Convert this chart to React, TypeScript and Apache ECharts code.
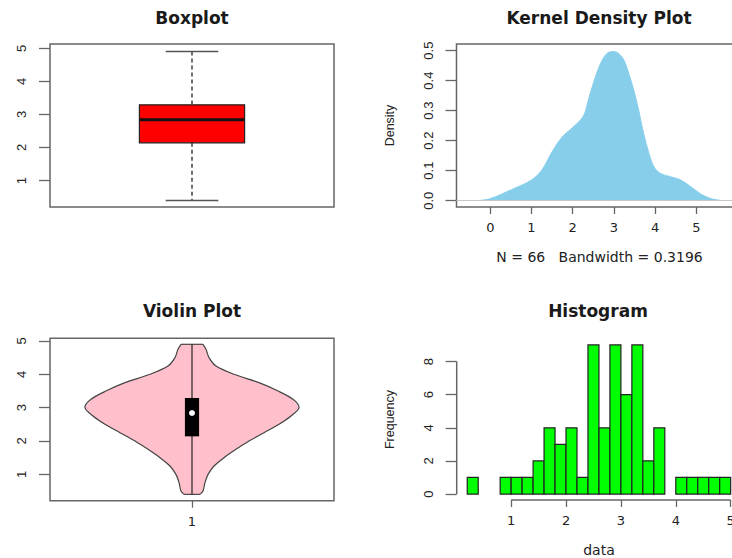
import React, { useEffect, useRef } from "react";
import * as echarts from "echarts";

// ---------- data ----------
const boxStats = [0.4, 2.14, 2.84, 3.29, 4.9]; // min, Q1, median, Q3, max
const yTicksBox = [1, 2, 3, 4, 5];

const densityX = [-0.3, 0, 0.5, 1.0, 1.25, 1.5, 1.75, 2.0, 2.26, 2.38, 2.5, 2.66, 2.82, 2.98, 3.11, 3.24, 3.36, 3.48, 3.6, 3.72, 3.85, 3.97, 4.13, 4.37, 4.62, 4.86, 5.11, 5.35, 5.65];
const densityY = [0, 0.007, 0.036, 0.069, 0.102, 0.163, 0.213, 0.244, 0.282, 0.336, 0.391, 0.452, 0.489, 0.497, 0.491, 0.469, 0.424, 0.369, 0.302, 0.224, 0.158, 0.113, 0.091, 0.08, 0.069, 0.047, 0.022, 0.007, 0];
const densityXTicks = [0, 1, 2, 3, 4, 5, 6];
const densityYTicks = [0, 0.1, 0.2, 0.3, 0.4, 0.5];
const densityXLabel = "N = 66   Bandwidth = 0.3196";

const violinLevels = [0.4, 0.5, 0.75, 1.0, 1.25, 1.5, 1.75, 2.0, 2.25, 2.5, 2.75, 3.0, 3.25, 3.5, 3.75, 4.0, 4.25, 4.5, 4.75, 4.9];
const violinDensity = [0.075, 0.103, 0.121, 0.15, 0.206, 0.299, 0.411, 0.533, 0.673, 0.813, 0.925, 1.0, 0.944, 0.804, 0.626, 0.393, 0.224, 0.159, 0.131, 0.103];
const violinCategories = ["1"];

const histBreaks = [0.2, 0.4, 0.6, 0.8, 1.0, 1.2, 1.4, 1.6, 1.8, 2.0, 2.2, 2.4, 2.6, 2.8, 3.0, 3.2, 3.4, 3.6, 3.8, 4.0, 4.2, 4.4, 4.6, 4.8, 5.0];
const histCounts = [1, 0, 0, 1, 1, 1, 2, 4, 3, 4, 1, 9, 4, 9, 6, 9, 2, 4, 0, 1, 1, 1, 1, 1];
const histXTicks = [1, 2, 3, 4, 5];
const histYTicks = [0, 2, 4, 6, 8];

const titles = ["Boxplot", "Kernel Density Plot", "Violin Plot", "Histogram"];

// ---------- styles ----------
const AXIS_COLOR = "#666";
const TEXT_COLOR = "#222";
const WIDE_FONT = "'DejaVu Sans', 'Liberation Sans', sans-serif";
const NARROW_FONT = "'Liberation Sans Narrow', 'Liberation Sans', Arial, sans-serif";

const hLabel = { fontFamily: WIDE_FONT, fontSize: 13, color: TEXT_COLOR };
const vLabel = { fontFamily: NARROW_FONT, fontSize: 13, color: TEXT_COLOR };

function yAxisBase(gridIndex: number, min: number, max: number, ticks: number[], fmt?: (v: number) => string) {
  return {
    type: "value",
    gridIndex,
    min,
    max,
    splitLine: { show: false },
    axisLine: { show: false, onZero: false },
    axisTick: { show: true, length: 11, customValues: ticks, lineStyle: { color: AXIS_COLOR, width: 1.3 } },
    axisLabel: {
      show: true,
      customValues: ticks,
      rotate: 90,
      margin: 22,
      ...vLabel,
      formatter: fmt ? (v: number) => fmt(v) : (v: number) => String(v),
    },
  };
}

function xAxisBase(gridIndex: number, min: number, max: number, ticks: number[], fmt?: (v: number) => string) {
  return {
    type: "value",
    gridIndex,
    min,
    max,
    splitLine: { show: false },
    axisLine: { show: false, onZero: false },
    axisTick: { show: ticks.length > 0, length: 7, customValues: ticks, lineStyle: { color: AXIS_COLOR, width: 1.3 } },
    axisLabel: {
      show: ticks.length > 0,
      customValues: ticks,
      margin: 14,
      hideOverlap: false,
      ...hLabel,
      formatter: fmt ? (v: number) => fmt(v) : (v: number) => String(v),
    },
  };
}

export default function App() {
  const ref = useRef<HTMLDivElement>(null);

  useEffect(() => {
    if (!ref.current) return;
    const chart = echarts.init(ref.current, null, { renderer: "svg" });

    const titleStyle = { fontFamily: WIDE_FONT, fontWeight: "bold", fontSize: 17, color: "#1a1a1a" };
    const titlePos = [
      [192, 9],
      [599, 9],
      [192, 302],
      [598, 302],
    ];

    const BOX_HALF = 0.2;
    const CAP_HALF = 0.1;
    const VIOLIN_MAX_HALF = 0.407;
    const VIOLIN_BOX_HALF = 0.027;

    const gridCommon = { outerBoundsMode: "none", containLabel: false, backgroundColor: "transparent" };

    const option: any = {
      animation: false,
      backgroundColor: "#fff",
      title: titles.map((t, i) => ({
        text: t,
        left: titlePos[i][0],
        top: titlePos[i][1],
        textAlign: "center",
        padding: 0,
        textStyle: titleStyle,
      })),
      grid: [
        { ...gridCommon, left: 50, top: 44, width: 284, height: 163, show: true, borderColor: AXIS_COLOR, borderWidth: 1.5 },
        { ...gridCommon, left: 456.5, top: 44, width: 286, height: 163, show: true, borderColor: AXIS_COLOR, borderWidth: 1.5 },
        { ...gridCommon, left: 50, top: 338.3, width: 284, height: 162.4, show: true, borderColor: AXIS_COLOR, borderWidth: 1.5 },
        { ...gridCommon, left: 456.7, top: 339, width: 284.5, height: 161, show: false },
      ],
      xAxis: [
        xAxisBase(0, 0.46, 1.54, []),
        {
          ...xAxisBase(1, -0.82, 6.12, densityXTicks),
          name: densityXLabel,
          nameLocation: "middle",
          nameGap: 43,
          nameTextStyle: { fontFamily: WIDE_FONT, fontSize: 14, color: TEXT_COLOR },
        },
        {
          ...xAxisBase(2, 0.46, 1.54, [1], (v) => violinCategories[Math.round(v) - 1] ?? ""),
        },
        {
          ...xAxisBase(3, 0.008, 5.192, histXTicks),
          name: "data",
          nameLocation: "middle",
          nameGap: 43,
          nameTextStyle: { fontFamily: WIDE_FONT, fontSize: 14, color: TEXT_COLOR },
        },
      ],
      yAxis: [
        yAxisBase(0, 0.2, 5.13, yTicksBox),
        {
          ...yAxisBase(1, -0.021, 0.522, densityYTicks, (v) => v.toFixed(1)),
          name: "Density",
          nameLocation: "middle",
          nameGap: 60,
          nameRotate: 90,
          nameTextStyle: { fontFamily: NARROW_FONT, fontSize: 12.5, color: TEXT_COLOR },
        },
        yAxisBase(2, 0.21, 5.08, yTicksBox),
        {
          ...yAxisBase(3, -0.36, 9.36, histYTicks),
          name: "Frequency",
          nameLocation: "middle",
          nameGap: 60,
          nameRotate: 90,
          nameTextStyle: { fontFamily: NARROW_FONT, fontSize: 12.5, color: TEXT_COLOR },
        },
      ],
      series: [
        // Boxplot
        {
          type: "custom",
          xAxisIndex: 0,
          yAxisIndex: 0,
          data: [[1]],
          renderItem: (_p: any, api: any) => {
            const [lo, q1, med, q3, hi] = boxStats;
            const c = 1;
            const p = (x: number, y: number) => api.coord([x, y]);
            const tl = p(c - BOX_HALF, q3);
            const br = p(c + BOX_HALF, q1);
            const mL = p(c - BOX_HALF, med);
            const mR = p(c + BOX_HALF, med);
            const wTop = p(c, hi);
            const wQ3 = p(c, q3);
            const wQ1 = p(c, q1);
            const wLo = p(c, lo);
            const capTopL = p(c - CAP_HALF, hi);
            const capTopR = p(c + CAP_HALF, hi);
            const capLoL = p(c - CAP_HALF, lo);
            const capLoR = p(c + CAP_HALF, lo);
            const dash = { stroke: "#222", lineWidth: 1.3, lineDash: [4, 3] };
            const cap = { stroke: "#555", lineWidth: 1.5 };
            return {
              type: "group",
              children: [
                { type: "line", shape: { x1: wTop[0], y1: wTop[1], x2: wQ3[0], y2: wQ3[1] }, style: dash },
                { type: "line", shape: { x1: wQ1[0], y1: wQ1[1], x2: wLo[0], y2: wLo[1] }, style: dash },
                { type: "line", shape: { x1: capTopL[0], y1: capTopL[1], x2: capTopR[0], y2: capTopR[1] }, style: cap },
                { type: "line", shape: { x1: capLoL[0], y1: capLoL[1], x2: capLoR[0], y2: capLoR[1] }, style: cap },
                {
                  type: "rect",
                  shape: { x: tl[0], y: tl[1], width: br[0] - tl[0], height: br[1] - tl[1] },
                  style: { fill: "#ff0000", stroke: "#222", lineWidth: 1.2 },
                },
                { type: "line", shape: { x1: mL[0], y1: mL[1], x2: mR[0], y2: mR[1] }, style: { stroke: "#111", lineWidth: 3 } },
              ],
            };
          },
        },
        // Density
        {
          type: "line",
          xAxisIndex: 1,
          yAxisIndex: 1,
          data: densityX.map((x, i) => [x, densityY[i]]),
          smooth: 0.35,
          symbol: "none",
          lineStyle: { color: "#87ceeb", width: 1 },
          areaStyle: { color: "#87ceeb", opacity: 1 },
          markLine: {
            silent: true,
            symbol: "none",
            label: { show: false },
            lineStyle: { color: "#c8c8c8", type: "solid", width: 1.2 },
            data: [{ yAxis: 0 }],
          },
          z: 3,
        },
        // Violin
        {
          type: "custom",
          xAxisIndex: 2,
          yAxisIndex: 2,
          data: [[1]],
          renderItem: (_p: any, api: any) => {
            const c = 1;
            const left = violinLevels.map((lv, i) => api.coord([c - violinDensity[i] * VIOLIN_MAX_HALF, lv]));
            const right = violinLevels
              .map((lv, i) => api.coord([c + violinDensity[i] * VIOLIN_MAX_HALF, lv]))
              .reverse();
            const [lo, q1, med, q3, hi] = boxStats;
            const top = api.coord([c, hi]);
            const bot = api.coord([c, lo]);
            const bTL = api.coord([c - VIOLIN_BOX_HALF, q3]);
            const bBR = api.coord([c + VIOLIN_BOX_HALF, q1]);
            const m = api.coord([c, med]);
            const outline = { stroke: "#444", lineWidth: 1.2, fill: "none" };
            return {
              type: "group",
              children: [
                {
                  type: "polygon",
                  shape: { points: left.concat(right) },
                  style: { fill: "#ffc0cb", stroke: "none" },
                },
                { type: "polyline", shape: { points: left, smooth: 0.3 }, style: outline },
                { type: "polyline", shape: { points: right, smooth: 0.3 }, style: outline },
                { type: "line", shape: { x1: left[0][0], y1: left[0][1], x2: right[right.length - 1][0], y2: right[right.length - 1][1] }, style: outline },
                { type: "line", shape: { x1: left[left.length - 1][0], y1: left[left.length - 1][1], x2: right[0][0], y2: right[0][1] }, style: outline },
                { type: "line", shape: { x1: top[0], y1: top[1], x2: bot[0], y2: bot[1] }, style: { stroke: "#222", lineWidth: 1.2 } },
                {
                  type: "rect",
                  shape: { x: bTL[0], y: bTL[1], width: bBR[0] - bTL[0], height: bBR[1] - bTL[1] },
                  style: { fill: "#000" },
                },
                { type: "circle", shape: { cx: m[0], cy: m[1], r: 3 }, style: { fill: "#fff" } },
              ],
            };
          },
        },
        // Histogram bars
        {
          type: "custom",
          xAxisIndex: 3,
          yAxisIndex: 3,
          data: histCounts.map((n, i) => [histBreaks[i], histBreaks[i + 1], n]),
          renderItem: (_p: any, api: any) => {
            const x0 = api.value(0);
            const x1 = api.value(1);
            const n = api.value(2);
            if (!n) return null;
            const a = api.coord([x0, n]);
            const b = api.coord([x1, 0]);
            return {
              type: "rect",
              shape: { x: a[0], y: a[1], width: b[0] - a[0], height: b[1] - a[1] },
              style: { fill: "#00ff00", stroke: "#222", lineWidth: 1.2 },
            };
          },
        },
        // Histogram axis lines (R-style, spanning first to last tick)
        {
          type: "custom",
          xAxisIndex: 3,
          yAxisIndex: 3,
          clip: false,
          silent: true,
          data: [[0]],
          renderItem: (_p: any, api: any) => {
            const xMin = 0.008;
            const yMin = -0.36;
            const xa = api.coord([histXTicks[0], yMin]);
            const xb = api.coord([histXTicks[histXTicks.length - 1], yMin]);
            const ya = api.coord([xMin, histYTicks[0]]);
            const yb = api.coord([xMin, histYTicks[histYTicks.length - 1]]);
            const st = { stroke: AXIS_COLOR, lineWidth: 1.5 };
            return {
              type: "group",
              children: [
                { type: "line", shape: { x1: xa[0], y1: xa[1], x2: xb[0], y2: xb[1] }, style: st },
                { type: "line", shape: { x1: ya[0], y1: ya[1], x2: yb[0], y2: yb[1] }, style: st },
              ],
            };
          },
        },
      ],
    };

    chart.setOption(option);
    return () => chart.dispose();
  }, []);

  return (
    <div
      ref={ref}
      style={{ position: "fixed", left: 0, top: 0, width: 732, height: 558, background: "#fff" }}
    />
  );
}
